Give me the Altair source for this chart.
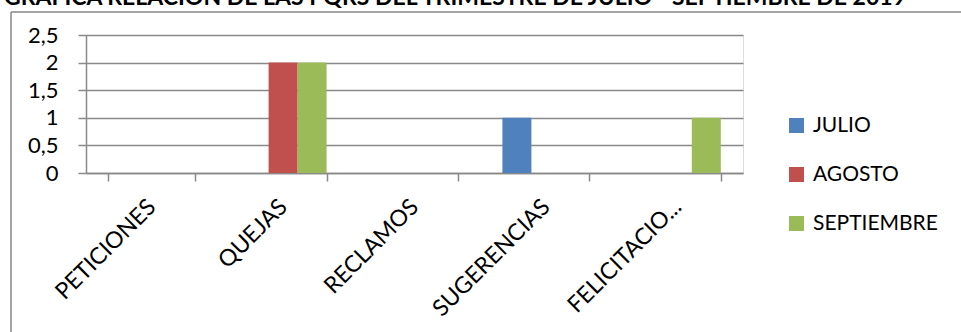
import altair as alt
import pandas as pd

categorias = ["PETICIONES", "QUEJAS", "RECLAMOS", "SUGERENCIAS", "FELICITACIONES"]
meses = ["JULIO", "AGOSTO", "SEPTIEMBRE"]
julio = [0, 0, 0, 1, 0]
agosto = [0, 2, 0, 0, 0]
septiembre = [0, 2, 0, 0, 1]
colores = ["#4F81BD", "#C0504D", "#9BBB59"]
titulo = "GRAFICA RELACION DE LAS PQRS DEL TRIMESTRE DE JULIO - SEPTIEMBRE DE 2019"
y_ticks = [0, 0.5, 1, 1.5, 2, 2.5]

rows = []
for mes, serie in zip(meses, [julio, agosto, septiembre]):
    for cat, v in zip(categorias, serie):
        rows.append({"categoria": cat, "mes": mes, "valor": v})
df = pd.DataFrame(rows)

FONT = "Lato"
GRID = "#898989"
W, H = 657, 138
PL, PT = 86, 35

bars = alt.Chart(df).mark_bar().encode(
    x=alt.X("categoria:N", sort=categorias, title=None,
            scale=alt.Scale(paddingInner=0.338, paddingOuter=0.169),
            axis=alt.Axis(labelAngle=-45, labelAlign="right", labelBaseline="middle",
                          tickBand="extent", tickSize=8, tickColor=GRID, tickWidth=1.5,
                          domainColor=GRID, domainWidth=1.5,
                          labelFont=FONT, labelFontSize=23, labelColor="#000",
                          labelPadding=22, labelLimit=300,
                          labelExpr="datum.label == 'FELICITACIONES' ? 'FELICITACIO...' : datum.label")),
    xOffset=alt.XOffset("mes:N", sort=meses, scale=alt.Scale(paddingInner=0, paddingOuter=0)),
    y=alt.Y("valor:Q", title=None,
            scale=alt.Scale(domain=[0, 2.5], nice=False),
            axis=alt.Axis(values=y_ticks, grid=True, gridColor=GRID, gridWidth=1.5,
                          tickSize=8, tickColor=GRID, tickWidth=1.5,
                          domainColor=GRID, domainWidth=1.5,
                          labelFont=FONT, labelFontSize=22, labelColor="#000",
                          labelPadding=20,
                          labelExpr="replace(format(datum.value, '~g'), '.', ',')")),
    color=alt.Color("mes:N", sort=meses,
                    scale=alt.Scale(domain=meses, range=colores),
                    legend=alt.Legend(title=None, orient="none", legendX=700, legendY=80,
                                      symbolType="square", symbolSize=225,
                                      symbolStrokeWidth=0, labelFont=FONT,
                                      labelFontSize=21, labelColor="#000",
                                      labelOffset=6, rowPadding=27, padding=0)),
)

one = alt.Data(values=[{"k": 0}])
border_v = alt.Chart(one).mark_rule(color="#878787", strokeWidth=1.5).encode(
    x=alt.value(11 - PL), y=alt.value(12 - PT), y2=alt.value(400))
border_h = alt.Chart(one).mark_rule(color="#878787", strokeWidth=1.5).encode(
    x=alt.value(11 - PL), x2=alt.value(1000), y=alt.value(12 - PT))
title_txt = alt.Chart(one).mark_text(font=FONT, fontSize=23, fontWeight="bold",
                                     align="center", baseline="alphabetic", color="#000").encode(
    x=alt.value(455 - PL), y=alt.value(5 - PT), text=alt.value(titulo))

chart = alt.layer(border_v, border_h, title_txt, bars).properties(
    width=W, height=H,
    autosize=alt.AutoSizeParams(type="none"),
    padding={"left": PL, "top": PT, "right": 961 - PL - W, "bottom": 332 - PT - H},
).configure_view(stroke=None).configure(background="white")

chart.save("out.html", embed_options={"renderer": "svg", "actions": False})
